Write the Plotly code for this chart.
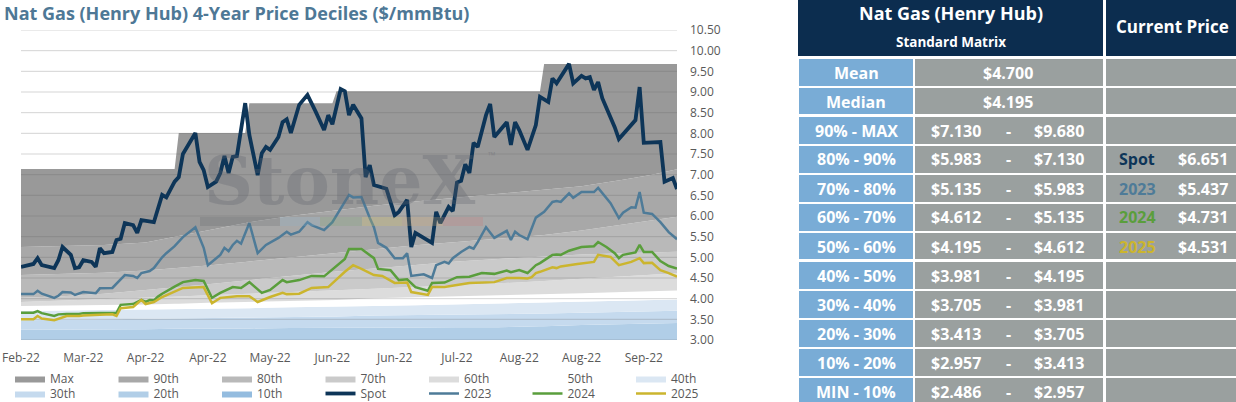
import plotly.graph_objects as go

W, H = 1236, 402
FONT = 'Open Sans'

# x axis is a trading-day index, labelled every 15 days
tick_days = [0, 15, 30, 45, 60, 75, 90, 105, 120, 135, 150]
tick_labels = ['Feb-22', 'Mar-22', 'Apr-22', 'Apr-22', 'May-22', 'Jun-22',
               'Jun-22', 'Jul-22', 'Aug-22', 'Aug-22', 'Sep-22']

# decile bands (at these days)
band_days = [0, 10, 20, 30, 37, 38, 45, 54, 55, 65, 75, 76, 85, 95, 105, 115, 125, 126, 135, 145, 152, 158]
p_min = [2.40, 2.40, 2.41, 2.41, 2.42, 2.42, 2.42, 2.43, 2.43, 2.44, 2.44, 2.44, 2.45, 2.45, 2.46, 2.46, 2.47, 2.47, 2.47, 2.48, 2.48, 2.486]
p10 = [2.80, 2.81, 2.82, 2.83, 2.84, 2.84, 2.85, 2.86, 2.86, 2.87, 2.88, 2.88, 2.89, 2.90, 2.91, 2.92, 2.93, 2.93, 2.94, 2.95, 2.95, 2.957]
p20 = [3.25, 3.25, 3.26, 3.26, 3.27, 3.27, 3.27, 3.28, 3.28, 3.29, 3.29, 3.29, 3.30, 3.30, 3.31, 3.31, 3.33, 3.33, 3.36, 3.39, 3.40, 3.413]
p30 = [3.48, 3.49, 3.50, 3.51, 3.52, 3.52, 3.53, 3.54, 3.54, 3.56, 3.57, 3.57, 3.59, 3.60, 3.61, 3.62, 3.64, 3.64, 3.66, 3.68, 3.69, 3.705]
p40 = [3.70, 3.71, 3.72, 3.73, 3.74, 3.74, 3.75, 3.77, 3.77, 3.79, 3.80, 3.80, 3.82, 3.84, 3.86, 3.88, 3.90, 3.90, 3.93, 3.95, 3.97, 3.981]
p50 = [3.82, 3.83, 3.85, 3.86, 3.88, 3.88, 3.90, 3.92, 3.92, 3.95, 3.97, 3.97, 4.01, 4.04, 4.06, 4.08, 4.10, 4.10, 4.13, 4.16, 4.18, 4.195]
p60 = [3.92, 3.95, 3.98, 4.01, 4.04, 4.05, 4.08, 4.12, 4.12, 4.16, 4.20, 4.21, 4.24, 4.28, 4.32, 4.37, 4.42, 4.43, 4.48, 4.54, 4.58, 4.612]
p70 = [4.02, 4.06, 4.12, 4.20, 4.27, 4.28, 4.35, 4.44, 4.45, 4.55, 4.65, 4.66, 4.73, 4.82, 4.90, 4.96, 5.02, 5.03, 5.07, 5.10, 5.12, 5.135]
p80 = [4.57, 4.60, 4.63, 4.68, 4.73, 4.74, 4.80, 4.89, 4.90, 5.00, 5.10, 5.11, 5.20, 5.29, 5.37, 5.45, 5.53, 5.54, 5.65, 5.80, 5.90, 5.983]
p90 = [5.25, 5.27, 5.30, 5.36, 5.50, 5.52, 5.65, 5.83, 5.85, 6.00, 6.13, 6.14, 6.25, 6.35, 6.44, 6.53, 6.62, 6.63, 6.72, 6.88, 7.00, 7.13]
p_max = [7.14, 7.14, 7.14, 7.14, 7.14, 8.01, 8.01, 8.01, 8.73, 8.73, 8.73, 9.02, 9.02, 9.02, 9.02, 9.02, 9.02, 9.68, 9.68, 9.68, 9.68, 9.68]

spot_days = [0, 3, 4, 5, 8, 9, 10, 12, 13, 14, 15, 17, 18, 19, 20, 22, 23, 24, 25, 27,
             28, 29, 32, 33, 34, 35, 37, 38, 39, 42, 43, 44, 45, 47, 48, 49, 50, 51, 52, 54,
             55, 57, 58, 59, 60, 62, 63, 64, 65, 67, 69, 71, 73, 74, 75, 77, 78, 79, 80, 82,
             83, 84, 85, 88, 90, 91, 93, 94, 95, 99, 100, 101, 103, 104, 105, 106, 107, 108, 109, 110,
             111, 112, 113, 114, 117, 118, 119, 120, 122, 124, 125, 126, 127, 128, 129, 132, 133, 135, 136, 137,
             138, 139, 140, 143, 144, 148, 149, 150, 153, 154, 155, 157, 158]
spot = [4.77, 4.84, 4.98, 4.81, 4.74, 4.93, 5.25, 5.06, 4.74, 4.76, 4.93, 4.89, 4.77, 5.22, 5.10, 5.13, 5.42, 5.45, 5.83, 5.78,
        5.59, 5.90, 5.85, 6.22, 6.51, 6.45, 6.83, 6.94, 7.50, 8.01, 7.31, 7.11, 6.70, 6.83, 7.04, 7.45, 7.04, 7.43, 7.45, 8.73,
        7.96, 6.99, 7.52, 7.67, 7.60, 7.91, 8.27, 8.34, 8.01, 8.69, 8.93, 8.52, 8.08, 8.44, 8.22, 9.07, 9.02, 8.44, 8.69, 8.36,
        6.94, 7.23, 6.75, 6.66, 6.02, 6.10, 6.39, 5.25, 5.59, 5.35, 6.10, 5.83, 6.22, 6.12, 6.81, 6.85, 7.25, 7.04, 7.77, 7.67,
        8.08, 8.44, 8.71, 7.91, 8.27, 7.72, 8.27, 8.08, 7.60, 8.20, 8.88, 8.81, 8.76, 9.33, 9.21, 9.68, 9.21, 9.39, 9.33, 9.36,
        9.05, 9.24, 8.85, 8.15, 7.86, 8.32, 9.12, 7.77, 7.77, 7.79, 6.83, 6.92, 6.651]

y2023_days = [0, 3, 4, 5, 8, 9, 10, 12, 13, 15, 18, 19, 22, 23, 25, 27, 28, 29, 31, 32,
              34, 35, 36, 37, 39, 42, 44, 45, 48, 49, 50, 51, 52, 53, 55, 56, 57, 59, 60, 62,
              64, 65, 67, 69, 70, 73, 75, 78, 79, 80, 82, 84, 85, 86, 88, 90, 92, 93, 94, 97,
              99, 100, 102, 103, 104, 106, 108, 109, 110, 112, 114, 117, 118, 119, 120, 122, 124, 126, 128, 129,
              130, 132, 133, 135, 138, 139, 142, 144, 145, 147, 148, 149, 150, 152, 154, 156, 158]
y2023 = [4.11, 4.11, 4.19, 4.12, 4.02, 4.07, 4.16, 4.15, 4.09, 4.16, 4.13, 4.25, 4.26, 4.37, 4.57, 4.55, 4.50, 4.62, 4.67, 4.74,
         5.00, 5.10, 5.18, 5.27, 5.49, 5.73, 5.23, 4.81, 5.06, 5.23, 5.15, 5.30, 5.40, 5.33, 5.83, 5.47, 5.10, 5.30, 5.35, 5.47,
         5.62, 5.55, 5.62, 5.85, 5.78, 5.66, 5.85, 6.34, 6.51, 6.45, 6.46, 5.95, 5.73, 5.35, 5.23, 4.98, 4.98, 5.10, 4.55, 4.59,
         4.50, 4.81, 4.89, 4.85, 4.98, 5.13, 5.25, 5.21, 5.37, 5.73, 5.47, 5.64, 5.42, 5.62, 5.54, 5.44, 5.96, 6.10, 6.34, 6.36,
         6.34, 6.55, 6.44, 6.58, 6.58, 6.68, 6.31, 5.95, 6.08, 6.21, 6.20, 6.58, 6.08, 6.05, 5.85, 5.61, 5.437]

y2024_days = [0, 3, 4, 5, 8, 9, 11, 14, 15, 19, 20, 22, 23, 24, 27, 29, 30, 31, 32, 33,
              34, 37, 39, 42, 44, 46, 48, 51, 53, 55, 58, 60, 63, 64, 67, 70, 73, 78, 79, 82,
              85, 86, 89, 91, 93, 95, 98, 99, 102, 105, 108, 111, 114, 117, 118, 120, 122, 124, 125, 128,
              129, 130, 132, 135, 138, 139, 141, 143, 144, 145, 147, 148, 149, 150, 152, 154, 156, 158]
y2024 = [3.66, 3.66, 3.70, 3.65, 3.58, 3.62, 3.63, 3.63, 3.65, 3.65, 3.66, 3.66, 3.66, 3.85, 3.87, 3.97, 3.92, 3.97, 3.96, 4.05,
         4.12, 4.29, 4.40, 4.45, 4.43, 4.02, 4.14, 4.28, 4.26, 4.40, 4.14, 4.21, 4.45, 4.40, 4.45, 4.55, 4.54, 4.96, 5.20, 5.20,
         4.98, 4.72, 4.69, 4.45, 4.47, 4.28, 4.19, 4.38, 4.39, 4.52, 4.53, 4.62, 4.60, 4.68, 4.64, 4.69, 4.62, 4.81, 4.86, 5.06,
         5.07, 5.06, 5.16, 5.25, 5.27, 5.37, 5.25, 5.10, 4.98, 5.06, 5.10, 5.12, 5.30, 5.13, 5.13, 4.91, 4.79, 4.731]

y2025_days = [0, 3, 4, 5, 8, 11, 14, 15, 19, 22, 23, 24, 27, 29, 30, 32, 34, 37, 39, 44,
              46, 48, 52, 55, 57, 60, 63, 64, 67, 70, 74, 78, 80, 82, 85, 87, 90, 93, 94, 98,
              99, 102, 105, 108, 114, 117, 120, 122, 123, 124, 125, 128, 129, 130, 134, 138, 139, 142, 144, 147,
              149, 150, 152, 154, 156, 158]
y2025 = [3.50, 3.50, 3.58, 3.52, 3.48, 3.58, 3.58, 3.59, 3.61, 3.62, 3.58, 3.77, 3.80, 3.97, 3.87, 3.92, 4.04, 4.17, 4.26, 4.28,
         3.89, 4.02, 4.06, 4.06, 3.92, 4.04, 4.14, 4.11, 4.12, 4.26, 4.28, 4.65, 4.81, 4.72, 4.57, 4.55, 4.38, 4.39, 4.16, 4.09,
         4.28, 4.28, 4.33, 4.38, 4.40, 4.50, 4.50, 4.49, 4.52, 4.62, 4.65, 4.76, 4.74, 4.78, 4.84, 4.89, 5.06, 5.01, 4.81, 4.89,
         4.98, 4.86, 4.87, 4.69, 4.62, 4.531]

# matrix on the right
stat_labels = ['Mean', 'Median']
stat_values = ['$4.700', '$4.195']
range_labels = ['90% - MAX', '80% - 90%', '70% - 80%', '60% - 70%', '50% - 60%',
                '40% - 50%', '30% - 40%', '20% - 30%', '10% - 20%', 'MIN - 10%']
range_low = ['$7.130', '$5.983', '$5.135', '$4.612', '$4.195', '$3.981', '$3.705', '$3.413', '$2.957', '$2.486']
range_high = ['$9.680', '$7.130', '$5.983', '$5.135', '$4.612', '$4.195', '$3.981', '$3.705', '$3.413', '$2.957']
current_names = ['Spot', '2023', '2024', '2025']
current_values = ['$6.651', '$5.437', '$4.731', '$4.531']
current_rows = [1, 2, 3, 4]

SPOT_C, C2023, C2024, C2025 = '#0d3558', '#4e7b98', '#5a9e3c', '#cbb52e'
NAVY, BLUE, GRAY = '#0c2d4f', '#79acd6', '#9aa09f'

fig = go.Figure()

# bands, bottom to top, each filled down to the previous one
fig.add_trace(go.Scatter(x=band_days, y=p_min, mode='lines', line=dict(width=0),
                         showlegend=False, hoverinfo='skip'))
bands = [
    ('10th', p10, '#94bcdf', 'legend2', 3),
    ('20th', p20, '#b1cee7', 'legend2', 2),
    ('30th', p30, '#c5daee', 'legend2', 1),
    ('40th', p40, '#dbe7f3', 'legend', 7),
    ('50th', p50, '#ffffff', 'legend', 6),
    ('60th', p60, '#dcdcdc', 'legend', 5),
    ('70th', p70, '#cacaca', 'legend', 4),
    ('80th', p80, '#b9b9b9', 'legend', 3),
    ('90th', p90, '#a8a8a8', 'legend', 2),
    ('Max', p_max, '#999999', 'legend', 1),
]
for name, vals, color, leg, rank in bands:
    fig.add_trace(go.Scatter(x=band_days, y=vals, mode='lines', fill='tonexty', fillcolor=color,
                             line=dict(width=0, color=color), name=name, legend=leg,
                             legendrank=rank, hoverinfo='skip'))

# grid lines over the bands but under the price lines
y_ticks = [3 + 0.5 * k for k in range(16)]
gx, gy = [], []
for t in y_ticks:
    gx += [0, 158, None]
    gy += [t, t, None]
fig.add_trace(go.Scatter(x=gx, y=gy, mode='lines', line=dict(color='rgba(100,100,100,0.28)', width=1),
                         showlegend=False, hoverinfo='skip'))

lines = [
    ('Spot', spot_days, spot, SPOT_C, 3.8, 4),
    ('2023', y2023_days, y2023, C2023, 2.5, 5),
    ('2024', y2024_days, y2024, C2024, 2.5, 6),
    ('2025', y2025_days, y2025, C2025, 2.5, 7),
]
for name, xs, ys, color, width, rank in lines:
    fig.add_trace(go.Scatter(x=xs, y=ys, mode='lines', name=name, legend='legend2', legendrank=rank,
                             line=dict(color=color, width=width)))

legend_style = dict(orientation='h', x=10 / W, xanchor='left', yanchor='top',
                    entrywidth=58.5, entrywidthmode='pixels', traceorder='normal',
                    font=dict(family=FONT, size=12, color='#595959'), bgcolor='rgba(0,0,0,0)')

fig.update_layout(
    width=W, height=H, margin=dict(l=0, r=0, t=0, b=0, autoexpand=False),
    paper_bgcolor='white', plot_bgcolor='white',
    font=dict(family=FONT, size=12, color='#595959'),
    xaxis=dict(domain=[21 / W, 677 / W], range=[0, 158], tickvals=tick_days, ticktext=tick_labels,
               showgrid=False, zeroline=False, showline=False, ticks='', ticklabelstandoff=9),
    yaxis=dict(domain=[1 - 340 / H, 1 - 30 / H], range=[3, 10.5], tickvals=y_ticks, tickformat='.2f',
               side='right', showgrid=False, zeroline=False, showline=False, ticks='', ticklabelstandoff=12),
    legend=dict(legend_style, y=1 - 364 / H),
    legend2=dict(legend_style, y=1 - 379 / H),
    hovermode=False,
)


def px_x(x):
    return x / W


def px_y(y):
    return 1 - y / H


def rect(x0, y0, x1, y1, color):
    return dict(type='rect', xref='paper', yref='paper', x0=px_x(x0), x1=px_x(x1),
                y0=px_y(y1), y1=px_y(y0), fillcolor=color, line=dict(width=0), layer='above')


def label(x, y, s, size=15, color='white', anchor='center'):
    return dict(xref='paper', yref='paper', x=px_x(x), y=px_y(y), text=s, showarrow=False,
                xanchor=anchor, yanchor='middle',
                font=dict(family=FONT, size=size, color=color, weight='bold'))


shapes, notes = [], []

# chart title
notes.append(label(2, 13, 'Nat Gas (Henry Hub) 4-Year Price Deciles ($/mmBtu)', 18, '#4e7896', 'left'))

# watermark
notes.append(dict(xref='paper', yref='paper', x=px_x(340), y=px_y(180), text='StoneX', showarrow=False,
                  xanchor='center', yanchor='middle',
                  font=dict(family='DejaVu Serif', size=68, color='rgba(95,100,108,0.3)', weight='bold')))
notes.append(dict(xref='paper', yref='paper', x=px_x(492), y=px_y(155), text='™', showarrow=False,
                  xanchor='center', yanchor='middle', font=dict(size=10, color='rgba(95,100,108,0.35)')))
mark_bar = [(200, 280, 'rgba(90,95,100,0.22)'), (280, 320, 'rgba(140,175,200,0.25)'),
            (320, 362, 'rgba(120,165,110,0.22)'), (362, 402, 'rgba(215,195,90,0.25)'),
            (402, 443, 'rgba(215,170,110,0.25)'), (443, 483, 'rgba(200,120,120,0.25)')]
for x0, x1, c in mark_bar:
    shapes.append(rect(x0, 217, x1, 226, c))

# matrix header
shapes.append(rect(798, 0, 1103, 56, NAVY))
shapes.append(rect(1106, 0, 1236, 56, NAVY))
notes.append(label(951, 13, 'Nat Gas (Henry Hub)', 18))
notes.append(label(951, 42, 'Standard Matrix', 13.5))
notes.append(label(1172, 27, 'Current Price', 17))

# matrix body
row_labels = stat_labels + range_labels
row_mid = []
for r, lab in enumerate(row_labels):
    top = 59 + 29 * r
    bottom = top + (26 if r in (1, 6) else 27)
    row_mid.append(top + 13.5)
    shapes.append(rect(799, top, 913, bottom, BLUE))
    shapes.append(rect(915, top, 1103, bottom, GRAY))
    shapes.append(rect(1106, top, 1236, bottom, GRAY))
    notes.append(label(856, top + 13.5, lab, 16))

for r, v in enumerate(stat_values):
    notes.append(label(1008, row_mid[r], v, 16))
for k, (lo, hi) in enumerate(zip(range_low, range_high)):
    yc = row_mid[k + 2]
    notes.append(label(956, yc, lo, 16))
    notes.append(label(1008, yc, '-', 16))
    notes.append(label(1059, yc, hi, 16))
for name, val, color, k in zip(current_names, current_values, [SPOT_C, C2023, C2024, C2025], current_rows):
    yc = row_mid[k + 2]
    notes.append(label(1137, yc, name, 16, color))
    notes.append(label(1203, yc, val, 16))

fig.update_layout(shapes=shapes, annotations=notes)

# the page body has a default 8px margin; drop it so the figure fills the window
fig.write_html("out.html", config={'displayModeBar': False},
               post_script="document.body.style.margin='0';")
